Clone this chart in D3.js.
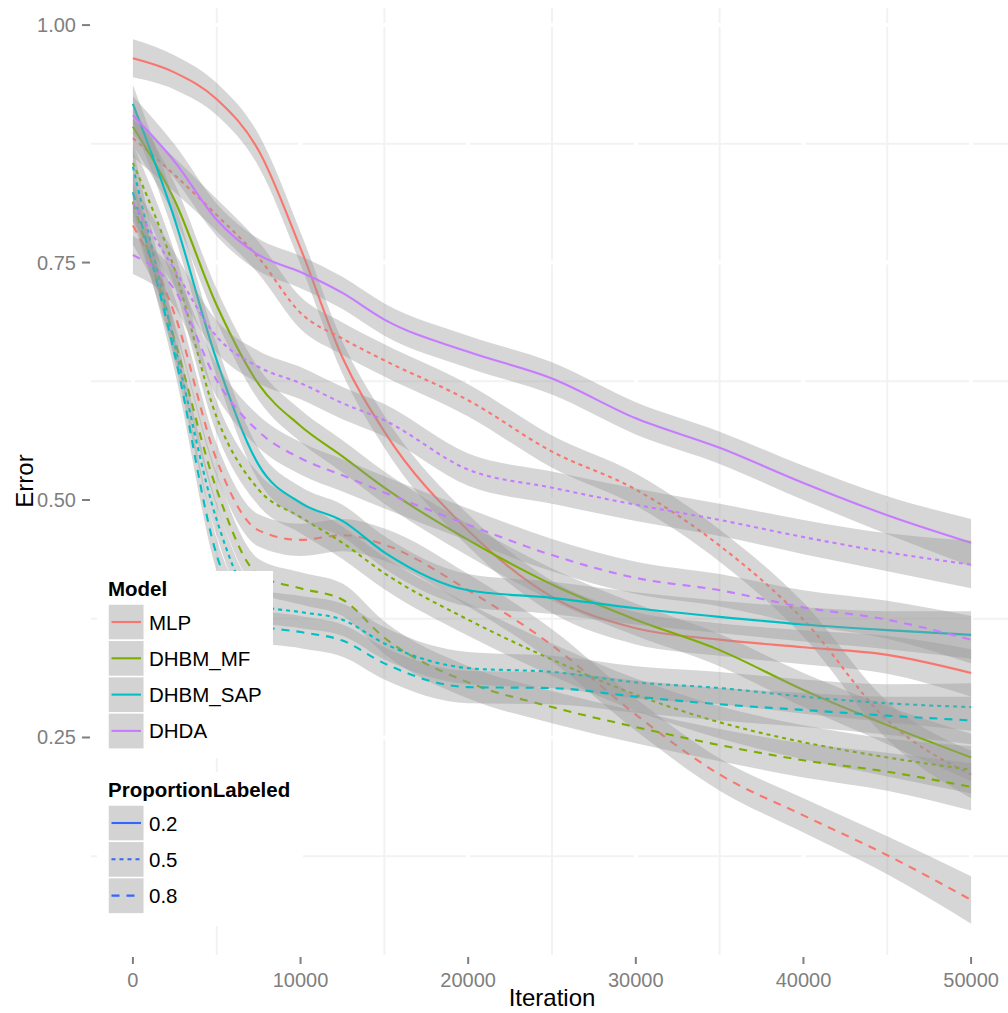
<!DOCTYPE html>
<html>
<head>
<meta charset="utf-8">
<script src="https://cdn.jsdelivr.net/npm/d3@7"></script>
<style>
  body { margin: 0; background: #fff; }
  text { font-family: "Liberation Sans", Arial, sans-serif; }
</style>
</head>
<body>
<div id="chart"></div>
<script>
var iterations = [0, 2500, 5000, 7500, 10000, 12500, 15000, 20000, 25000, 30000, 35000, 40000, 45000, 50000];
var models = ["MLP", "DHBM_MF", "DHBM_SAP", "DHDA"];
var proportions = ["0.2", "0.5", "0.8"];

var mlp02 = [0.965, 0.950, 0.922, 0.868, 0.765, 0.650, 0.572, 0.468, 0.398, 0.365, 0.353, 0.345, 0.337, 0.318];
var mlp05 = [0.881, 0.842, 0.800, 0.755, 0.697, 0.670, 0.647, 0.605, 0.551, 0.511, 0.452, 0.374, 0.268, 0.211];
var mlp08 = [0.789, 0.695, 0.542, 0.468, 0.458, 0.463, 0.453, 0.405, 0.347, 0.274, 0.211, 0.168, 0.126, 0.079];
var mf02 = [0.893, 0.815, 0.705, 0.622, 0.578, 0.546, 0.513, 0.458, 0.411, 0.374, 0.342, 0.300, 0.263, 0.229];
var mf05 = [0.855, 0.742, 0.587, 0.511, 0.482, 0.455, 0.423, 0.374, 0.332, 0.295, 0.266, 0.245, 0.229, 0.216];
var mf08 = [0.814, 0.668, 0.511, 0.421, 0.407, 0.395, 0.355, 0.308, 0.282, 0.261, 0.242, 0.226, 0.214, 0.198];
var sap02 = [0.917, 0.795, 0.647, 0.537, 0.497, 0.478, 0.445, 0.405, 0.397, 0.386, 0.377, 0.369, 0.363, 0.358];
var sap05 = [0.851, 0.663, 0.479, 0.389, 0.382, 0.374, 0.349, 0.323, 0.319, 0.308, 0.302, 0.293, 0.286, 0.282];
var sap08 = [0.824, 0.653, 0.442, 0.368, 0.361, 0.352, 0.328, 0.303, 0.302, 0.293, 0.285, 0.279, 0.273, 0.268];
var dhda02 = [0.905, 0.856, 0.795, 0.758, 0.740, 0.718, 0.690, 0.656, 0.628, 0.586, 0.555, 0.518, 0.484, 0.455];
var dhda05 = [0.813, 0.742, 0.672, 0.640, 0.623, 0.602, 0.584, 0.532, 0.513, 0.495, 0.479, 0.461, 0.445, 0.432];
var dhda08 = [0.758, 0.721, 0.626, 0.572, 0.544, 0.526, 0.508, 0.474, 0.442, 0.418, 0.405, 0.387, 0.374, 0.353];

// half width of the confidence band
var bandHalf = [0.020, 0.018, 0.017, 0.017, 0.017, 0.017, 0.017, 0.017, 0.017, 0.017, 0.017, 0.018, 0.020, 0.025];

var xTicks = [0, 10000, 20000, 30000, 40000, 50000];
var yTicks = [0.25, 0.50, 0.75, 1.00];
var xMinor = [5000, 15000, 25000, 35000, 45000];
var yMinor = [0.125, 0.375, 0.625, 0.875];

var series = [
  { model: "MLP", prop: "0.2", values: mlp02 },
  { model: "MLP", prop: "0.5", values: mlp05 },
  { model: "MLP", prop: "0.8", values: mlp08 },
  { model: "DHBM_MF", prop: "0.2", values: mf02 },
  { model: "DHBM_MF", prop: "0.5", values: mf05 },
  { model: "DHBM_MF", prop: "0.8", values: mf08 },
  { model: "DHBM_SAP", prop: "0.2", values: sap02 },
  { model: "DHBM_SAP", prop: "0.5", values: sap05 },
  { model: "DHBM_SAP", prop: "0.8", values: sap08 },
  { model: "DHDA", prop: "0.2", values: dhda02 },
  { model: "DHDA", prop: "0.5", values: dhda05 },
  { model: "DHDA", prop: "0.8", values: dhda08 }
];

var W = 1008, H = 1013;
var panel = { left: 91, right: 1013, top: 8, bottom: 955 };

var svg = d3.select("#chart").append("svg")
    .attr("width", W)
    .attr("height", H);

var x = d3.scaleLinear().domain([-2500, 52500]).range([panel.left, panel.right]);
var y = d3.scaleLinear().domain([0.021, 1.018]).range([panel.bottom, panel.top]);

var color = d3.scaleOrdinal().domain(models).range(["#F8766D", "#7CAE00", "#00BFC4", "#C77CFF"]);
var dash = d3.scaleOrdinal().domain(proportions).range(["none", "4,4", "8,7"]);

svg.append("defs").append("clipPath").attr("id", "clip")
  .append("rect")
    .attr("x", panel.left).attr("y", panel.top)
    .attr("width", panel.right - panel.left).attr("height", panel.bottom - panel.top);

// grid: faint minor lines, white major lines over them
var grid = svg.append("g");
grid.selectAll(".vmin").data(xMinor).enter().append("line")
    .attr("x1", d => x(d)).attr("x2", d => x(d))
    .attr("y1", panel.top).attr("y2", panel.bottom)
    .attr("stroke", "#f2f2f2").attr("stroke-width", 2);
grid.selectAll(".hmin").data(yMinor).enter().append("line")
    .attr("y1", d => y(d)).attr("y2", d => y(d))
    .attr("x1", panel.left).attr("x2", panel.right)
    .attr("stroke", "#f2f2f2").attr("stroke-width", 2);
grid.selectAll(".vmaj").data(xTicks).enter().append("line")
    .attr("x1", d => x(d)).attr("x2", d => x(d))
    .attr("y1", panel.top).attr("y2", panel.bottom)
    .attr("stroke", "#fff").attr("stroke-width", 4);
grid.selectAll(".hmaj").data(yTicks).enter().append("line")
    .attr("y1", d => y(d)).attr("y2", d => y(d))
    .attr("x1", panel.left).attr("x2", panel.right)
    .attr("stroke", "#fff").attr("stroke-width", 4);

var area = d3.area()
    .x((d, i) => x(iterations[i]))
    .y0((d, i) => y(d - bandHalf[i]))
    .y1((d, i) => y(d + bandHalf[i]))
    .curve(d3.curveMonotoneX);
var line = d3.line()
    .x((d, i) => x(iterations[i]))
    .y(d => y(d))
    .curve(d3.curveMonotoneX);

// each group: ribbon then line, like geom_smooth
var plot = svg.append("g").attr("clip-path", "url(#clip)");
var groups = plot.selectAll(".smooth").data(series).enter().append("g");
groups.append("path")
    .attr("d", d => area(d.values))
    .attr("fill", "#999999")
    .attr("fill-opacity", 0.4);
groups.append("path")
    .attr("d", d => line(d.values))
    .attr("fill", "none")
    .attr("stroke", d => color(d.model))
    .attr("stroke-width", 2.1)
    .attr("stroke-dasharray", d => dash(d.prop));

// axes
var axisCol = "#7f7f7f";
var xAxis = svg.append("g");
xAxis.selectAll("line").data(xTicks).enter().append("line")
    .attr("x1", d => x(d)).attr("x2", d => x(d))
    .attr("y1", 957).attr("y2", 964)
    .attr("stroke", axisCol).attr("stroke-width", 2);
xAxis.selectAll("text").data(xTicks).enter().append("text")
    .attr("x", d => x(d)).attr("y", 987)
    .attr("text-anchor", "middle")
    .attr("font-size", "20px")
    .attr("fill", axisCol)
    .text(d => d);

var yAxis = svg.append("g");
yAxis.selectAll("line").data(yTicks).enter().append("line")
    .attr("y1", d => y(d)).attr("y2", d => y(d))
    .attr("x1", 82).attr("x2", 90)
    .attr("stroke", axisCol).attr("stroke-width", 2);
yAxis.selectAll("text").data(yTicks).enter().append("text")
    .attr("x", 76).attr("y", d => y(d) + 7)
    .attr("text-anchor", "end")
    .attr("font-size", "20px")
    .attr("fill", axisCol)
    .text(d => d3.format(".2f")(d));

svg.append("text")
    .attr("x", 552).attr("y", 1006)
    .attr("text-anchor", "middle")
    .attr("font-size", "24px")
    .text("Iteration");
svg.append("text")
    .attr("transform", "translate(33,481) rotate(-90)")
    .attr("text-anchor", "middle")
    .attr("font-size", "24px")
    .text("Error");

// legends
function legend(top, width, height, title, items, colorOf, dashOf) {
  var g = svg.append("g");
  g.append("rect")
      .attr("x", 97).attr("y", top)
      .attr("width", width).attr("height", height)
      .attr("fill", "#fff");
  g.append("text")
      .attr("x", 108).attr("y", top + 25)
      .attr("font-size", "20.5px")
      .attr("font-weight", "bold")
      .text(title);
  var rows = g.selectAll(".row").data(items).enter().append("g")
      .attr("transform", (d, i) => "translate(108," + (top + 33 + i * 36.3) + ")");
  rows.append("rect")
      .attr("width", 36.3).attr("height", 36.3)
      .attr("fill", "#d3d3d3")
      .attr("stroke", "#fff").attr("stroke-width", 1.5);
  rows.append("line")
      .attr("x1", 3.5).attr("x2", 33)
      .attr("y1", 18).attr("y2", 18)
      .attr("stroke", d => colorOf(d))
      .attr("stroke-width", 2.1)
      .attr("stroke-dasharray", d => dashOf(d));
  rows.append("text")
      .attr("x", 41).attr("y", 25.5)
      .attr("font-size", "20.5px")
      .text(d => d);
}
legend(571, 176, 187, "Model", models, d => color(d), d => "none");
legend(772, 206, 154, "ProportionLabeled", proportions, d => "#3366FF", d => dash(d));
</script>
</body>
</html>
